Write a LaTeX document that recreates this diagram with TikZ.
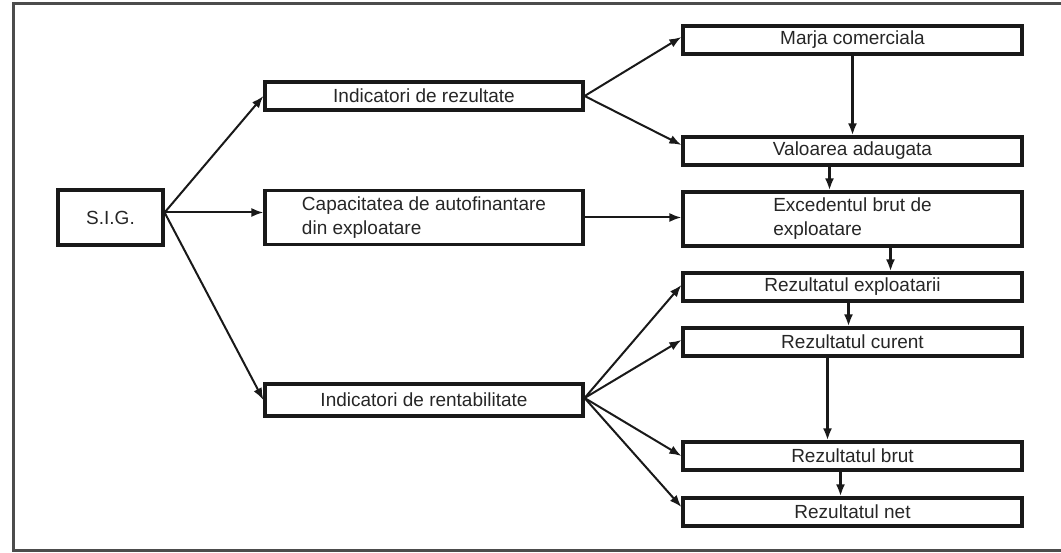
\documentclass[tikz,border=0pt]{standalone}
\usepackage{fontspec}
\setmainfont{Liberation Sans}
\usetikzlibrary{arrows.meta}
\begin{document}
\begin{tikzpicture}[x=1pt,y=-1pt,
  box/.style={draw=black!90, line width=3.2pt, rectangle, inner sep=0pt, minimum height=28pt,
    font=\fontsize{19}{24}\selectfont, text=black!85},
  lbox/.style={box, minimum width=318pt},
  rbox/.style={box, minimum width=339pt},
  conn/.style={draw=black!90, line width=2pt, -{Latex[length=12pt,width=9pt]}},
  vconn/.style={conn, line width=2.8pt}]
\useasboundingbox (0,0) rectangle (1061,553);
\draw[line width=3pt, draw=black!70] (1061,4) -- (13,4) -- (13,550) -- (1061,550);

\node[box, minimum width=105pt, minimum height=55pt] (sig) at (110.5,217.5) {S.I.G.};
\node[lbox] (ir) at (424,96) {Indicatori de rezultate};
\node[lbox, minimum height=54pt, align=left] (caf) at (424,217.5) {Capacitatea de autofinantare\\din exploatare};
\node[lbox, minimum height=32pt] (irent) at (424,400) {Indicatori de rentabilitate};

\node[rbox] (marja) at (852.5,40) {Marja comerciala};
\node[rbox] (val) at (852.5,151) {Valoarea adaugata};
\node[rbox, minimum height=54pt, align=left] (ebe) at (852.5,219) {Excedentul brut de\\exploatare};
\node[rbox] (rexp) at (852.5,287) {Rezultatul exploatarii};
\node[rbox] (rcur) at (852.5,342) {Rezultatul curent};
\node[rbox] (rbrut) at (852.5,456) {Rezultatul brut};
\node[rbox] (rnet) at (852.5,512) {Rezultatul net};

\coordinate (s0) at ([yshift=5pt]sig.east);
\draw[conn] (s0) -- (ir.west);
\draw[conn] (s0) -- (s0 -| caf.west);
\draw[conn] (s0) -- (irent.west);

\draw[conn] (ir.east) -- ([yshift=3pt]marja.west);
\draw[conn] (ir.east) -- ([yshift=6pt]val.west);
\draw[conn] (caf.east) -- (caf.east -| ebe.west);

\draw[vconn] (marja.south) -- (val.north);
\draw[vconn] ([xshift=-23pt]val.south) -- ([xshift=-23pt]val.south |- ebe.north);
\draw[vconn] ([xshift=38pt]ebe.south) -- ([xshift=38pt]ebe.south |- rexp.north);
\draw[vconn] ([xshift=-4pt]rexp.south) -- ([xshift=-4pt]rexp.south |- rcur.north);
\draw[vconn] ([xshift=-25pt]rcur.south) -- ([xshift=-25pt]rcur.south |- rbrut.north);
\draw[vconn] ([xshift=-12pt]rbrut.south) -- ([xshift=-12pt]rbrut.south |- rnet.north);

\coordinate (r0) at ([yshift=2pt]irent.east);
\draw[conn] (r0) -- ([yshift=2pt]rexp.west);
\draw[conn] (r0) -- ([yshift=2pt]rcur.west);
\draw[conn] (r0) -- (rbrut.west);
\draw[conn] (r0) -- ([yshift=5pt]rnet.west);
\end{tikzpicture}
\end{document}
